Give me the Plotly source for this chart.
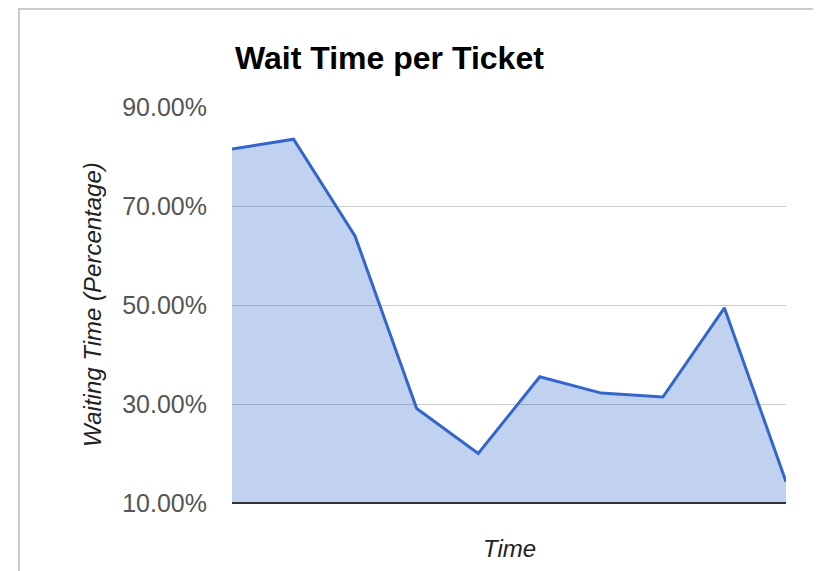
import plotly.graph_objects as go

# Data
time_points = list(range(10))
wait_pct = [81.5, 83.5, 63.9, 29.1, 20.0, 35.5, 32.2, 31.4, 49.4, 14.3]
tick_vals = [10, 30, 50, 70, 90]
tick_text = ["10.00%", "30.00%", "50.00%", "70.00%", "90.00%"]

OFF = 8  # page body margin
W, H = 821 - OFF, 571 - OFF
L, R, T, B = 232 - OFF, 786 - OFF, 107 - OFF, 503 - OFF

fig = go.Figure()
fig.add_trace(go.Scatter(
    x=time_points, y=wait_pct, mode="lines",
    line=dict(color="#3366CC", width=3),
    fill="tozeroy", fillcolor="rgba(51,102,204,0.3)",
    hoverinfo="skip", showlegend=False,
))

fig.update_layout(
    width=W, height=H,
    margin=dict(l=L, r=W - R, t=T, b=H - B, pad=0),
    paper_bgcolor="white", plot_bgcolor="white",
    font=dict(family="Liberation Sans, Arial", color="#444"),
    title=dict(text="<b>Wait Time per Ticket</b>", x=(235 - OFF) / W, xanchor="left",
               y=1 - (58 - OFF) / H, yanchor="middle", xref="container", yref="container",
               font=dict(size=32, color="#000", family="Liberation Sans, Arial")),
    xaxis=dict(range=[0, 9], showgrid=False, showticklabels=False, zeroline=False,
               showline=False, ticks=""),
    yaxis=dict(range=[10, 90], tickvals=tick_vals, ticktext=tick_text,
               tickfont=dict(size=25, color="#555"), gridcolor="#ccc", gridwidth=1,
               zeroline=False, showline=False, ticks="", ticklabelstandoff=24),
    shapes=[
        dict(type="line", xref="paper", yref="paper", x0=0, x1=1, y0=0, y1=0,
             line=dict(color="#333", width=2)),
        dict(type="rect", xref="paper", yref="paper",
             x0=(19 - OFF - L) / (R - L), x1=(819 - OFF - L) / (R - L),
             y0=-0.5, y1=(B - 1) / (B - T),
             line=dict(color="#ccc", width=2), fillcolor="rgba(0,0,0,0)", layer="below"),
    ],
    annotations=[
        dict(text="<i>Waiting Time (Percentage)</i>", textangle=-90,
             xref="paper", yref="paper", x=(92 - OFF - L) / (R - L), y=0.5,
             xanchor="center", yanchor="middle", showarrow=False,
             font=dict(size=24, color="#222")),
        dict(text="<i>Time</i>", xref="paper", yref="paper",
             x=0.5, y=-(548 - OFF - B) / (B - T), xanchor="center", yanchor="middle",
             showarrow=False, font=dict(size=24, color="#222")),
    ],
)

fig.write_html("out.html")
